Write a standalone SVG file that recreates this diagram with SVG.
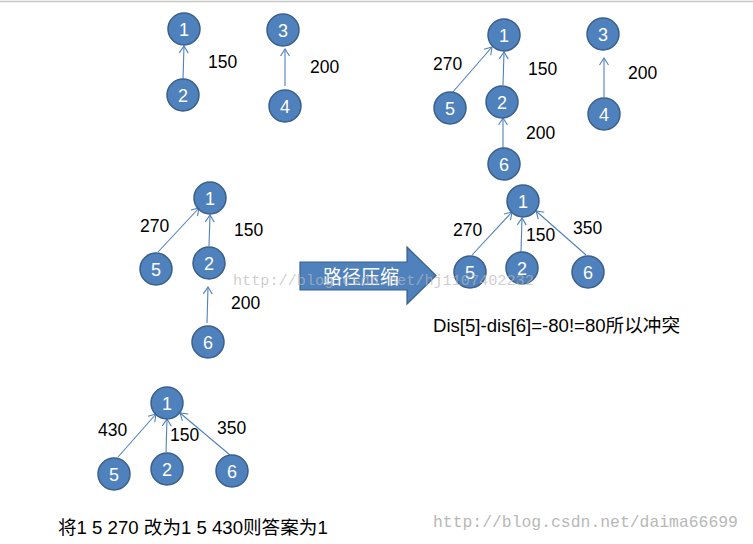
<svg xmlns="http://www.w3.org/2000/svg" width="753" height="544" viewBox="0 0 753 544">
<defs>
<style>
.n circle{fill:#4f81bd;stroke:#3a5f8b;stroke-width:1.5}
.n text{fill:#fff;font-family:"Liberation Sans","Noto Sans",sans-serif;font-size:18px;text-anchor:middle}
.e line{stroke:#4f81bd;stroke-width:1.1;marker-end:url(#ah)}
.lbl{fill:#000;font-family:"Liberation Sans","Noto Sans",sans-serif;font-size:17.5px}
.cap{fill:#000;font-family:"Liberation Sans","Noto Sans CJK SC",sans-serif;font-size:18.6px}
.wm{fill:#b8b8b8;font-family:"Liberation Mono","DejaVu Sans Mono",monospace}
</style>
<marker id="ah" viewBox="-9 -6 11 12" markerWidth="11" markerHeight="12" refX="0" refY="0" orient="auto" markerUnits="userSpaceOnUse">
<path d="M-7,-4.5 L0,0 L-7,4.5" fill="none" stroke="#4f81bd" stroke-width="1.1"/>
</marker>
</defs>
<rect width="753" height="544" fill="#fff"/>
<line x1="0" y1="1.5" x2="753" y2="1.5" stroke="#c6c6c6" stroke-width="1.5"/>

<g id="connectors" class="e">
<line x1="183" y1="79" x2="184" y2="46"/>
<line x1="285" y1="86" x2="285" y2="49"/>
<line x1="452" y1="93" x2="492" y2="47"/>
<line x1="503" y1="85" x2="504" y2="52"/>
<line x1="503" y1="148" x2="503" y2="118"/>
<line x1="604" y1="97" x2="604" y2="58"/>
<line x1="158" y1="252" x2="199" y2="208"/>
<line x1="209" y1="246" x2="210" y2="215"/>
<line x1="207" y1="323" x2="208" y2="287"/>
<line x1="472" y1="255" x2="512" y2="212"/>
<line x1="521" y1="252" x2="522" y2="218"/>
<line x1="586" y1="255" x2="536" y2="211"/>
<line x1="118" y1="457" x2="156" y2="414"/>
<line x1="166" y1="452" x2="167" y2="419"/>
<line x1="230" y1="455" x2="180" y2="413"/>
</g>

<g id="a1" class="n"><circle cx="184" cy="29" r="16"/><text x="184" y="35.5">1</text></g>
<g id="a2" class="n"><circle cx="183" cy="95" r="16"/><text x="183" y="101.5">2</text></g>
<g id="a3" class="n"><circle cx="283" cy="30" r="16"/><text x="283" y="36.5">3</text></g>
<g id="a4" class="n"><circle cx="285" cy="106" r="16"/><text x="285" y="112.5">4</text></g>
<text class="lbl" x="208" y="68">150</text>
<text class="lbl" x="310" y="73">200</text>

<g id="b1" class="n"><circle cx="504" cy="35" r="16"/><text x="504" y="41.5">1</text></g>
<g id="b3" class="n"><circle cx="603" cy="34" r="16"/><text x="603" y="40.5">3</text></g>
<g id="b5" class="n"><circle cx="450" cy="108" r="16"/><text x="450" y="114.5">5</text></g>
<g id="b2" class="n"><circle cx="502" cy="102" r="16"/><text x="502" y="108.5">2</text></g>
<g id="b4" class="n"><circle cx="604" cy="114" r="16"/><text x="604" y="120.5">4</text></g>
<g id="b6" class="n"><circle cx="504" cy="164" r="16"/><text x="504" y="170.5">6</text></g>
<text class="lbl" x="433" y="70">270</text>
<text class="lbl" x="528" y="75">150</text>
<text class="lbl" x="628" y="79">200</text>
<text class="lbl" x="526" y="139">200</text>

<g id="c1" class="n"><circle cx="210" cy="198" r="16"/><text x="210" y="204.5">1</text></g>
<g id="c5" class="n"><circle cx="156" cy="269" r="16"/><text x="156" y="275.5">5</text></g>
<g id="c2" class="n"><circle cx="209" cy="263" r="16"/><text x="209" y="269.5">2</text></g>
<g id="c6" class="n"><circle cx="208" cy="342" r="16"/><text x="208" y="348.5">6</text></g>
<text class="lbl" x="140" y="232">270</text>
<text class="lbl" x="234" y="236">150</text>
<text class="lbl" x="231" y="309">200</text>

<g id="arrow">
<path d="M300,262 L407,262 L407,247 L436,275.5 L407,304 L407,290 L300,290 Z" fill="#4f81bd" stroke="#3a5f8b" stroke-width="1.2"/>
<text x="361" y="284" fill="#fff" font-family="'Noto Sans CJK SC',sans-serif" font-size="19" text-anchor="middle">路径压缩</text>
</g>

<g id="d1" class="n"><circle cx="523" cy="201" r="16"/><text x="523" y="207.5">1</text></g>
<g id="d5" class="n"><circle cx="470" cy="272" r="16"/><text x="470" y="278.5">5</text></g>
<g id="d2" class="n"><circle cx="522" cy="268" r="16"/><text x="522" y="274.5">2</text></g>
<g id="d6" class="n"><circle cx="588" cy="272" r="16"/><text x="588" y="278.5">6</text></g>
<text class="lbl" x="453" y="236">270</text>
<text class="lbl" x="526" y="241">150</text>
<text class="lbl" x="573" y="234">350</text>
<text class="cap" x="433" y="332">Dis[5]-dis[6]=-80!=80所以冲突</text>

<g id="e1" class="n"><circle cx="167" cy="403" r="16"/><text x="167" y="409.5">1</text></g>
<g id="e5" class="n"><circle cx="114" cy="474" r="16"/><text x="114" y="480.5">5</text></g>
<g id="e2" class="n"><circle cx="167" cy="469" r="16"/><text x="167" y="475.5">2</text></g>
<g id="e6" class="n"><circle cx="232" cy="471" r="16"/><text x="232" y="477.5">6</text></g>
<text class="lbl" x="98" y="436">430</text>
<text class="lbl" x="170" y="441">150</text>
<text class="lbl" x="217" y="434">350</text>
<text class="cap" x="58" y="534">将1 5 270 改为1 5 430则答案为1</text>

<text class="wm" x="233" y="285" font-size="15.2" fill-opacity="0.7">http://blog.csdn.net/hj1107402232</text>
<text class="wm" x="433" y="527" font-size="16.4" fill="#cccccc">http://blog.csdn.net/daima66699</text>
</svg>
